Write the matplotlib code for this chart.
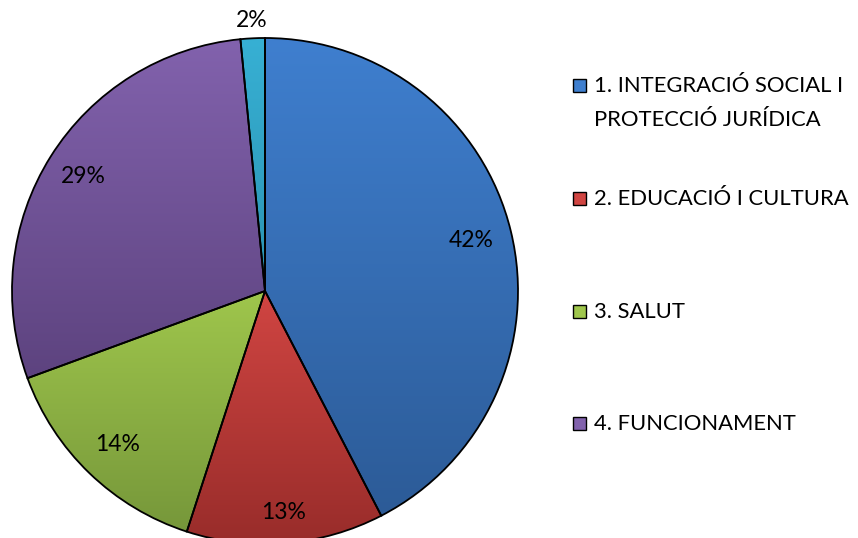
import numpy as np
import matplotlib.pyplot as plt
from matplotlib.patches import Rectangle
from matplotlib.colors import LinearSegmentedColormap

plt.rcParams['font.family'] = ['Lato', 'DejaVu Sans']

# shares of each item (percent)
categories = ['1. INTEGRACIÓ SOCIAL I\nPROTECCIÓ JURÍDICA', '2. EDUCACIÓ I CULTURA',
              '3. SALUT', '4. FUNCIONAMENT', '5. ALTRES']
values = [42.4, 12.6, 14.4, 29.05, 1.55]
legend_items = 4  # only the first four show up in the legend

# top colour / bottom colour for the gradient of each slice
top_colors = ['#3f7fcf', '#d04542', '#9fc64c', '#8262ad', '#37b0d4']
bottom_colors = ['#2c5b97', '#982c2a', '#76973a', '#5d437f', '#2b93b2']
label_dist = [0.84, 0.88, 0.84, 0.85, 1.07]

fig = plt.figure(figsize=(8.58, 5.38), dpi=100)
W, H = 858, 538
cx, cy, r = 265, 291, 253
ax = fig.add_axes([(cx - r) / W, (H - cy - r) / H, 2 * r / W, 2 * r / H])

wedges, texts, autotexts = ax.pie(values, startangle=90, counterclock=False,
                                  autopct='%1.0f%%', pctdistance=0.84,
                                  wedgeprops=dict(edgecolor='black', linewidth=1.3),
                                  textprops=dict(fontsize=16.5, color='black'))

# vertical gradient inside each wedge
for w, c0, c1 in zip(wedges, top_colors, bottom_colors):
    w.set_facecolor('none')
    cmap = LinearSegmentedColormap.from_list('g', [c1, c0])
    verts = w.get_path().vertices
    x0, x1 = verts[:, 0].min(), verts[:, 0].max()
    y0, y1 = verts[:, 1].min(), verts[:, 1].max()
    grad = np.linspace(0, 1, 256).reshape(-1, 1)
    im = ax.imshow(grad, cmap=cmap, extent=[x0, x1, y0, y1], origin='lower',
                   aspect='auto', zorder=0.5)
    im.set_clip_path(w)

# label distance per slice (the tiny one goes outside)
for w, t, d in zip(wedges, autotexts, label_dist):
    mid = np.deg2rad((w.theta1 + w.theta2) / 2)
    t.set_position((d * np.cos(mid), d * np.sin(mid)))

ax.set_xlim(-1, 1)
ax.set_ylim(-1, 1)
ax.set_aspect('auto')
ax.axis('off')

# legend drawn by hand so the marker sits on the first text line
leg_base = [92, 205, 318, 430]
line_step = 34
for i in range(legend_items):
    y = leg_base[i]
    fig.patches.append(Rectangle((573 / W, 1 - y / H), 13 / W, 13 / H,
                                 transform=fig.transFigure, facecolor=top_colors[i],
                                 edgecolor='black', linewidth=1.0))
    for k, line in enumerate(categories[i].split('\n')):
        fig.text(594 / W, 1 - (y + k * line_step) / H, line, fontsize=15.8,
                 va='baseline', ha='left', transform=fig.transFigure)

fig.savefig('out.png', dpi=100)
